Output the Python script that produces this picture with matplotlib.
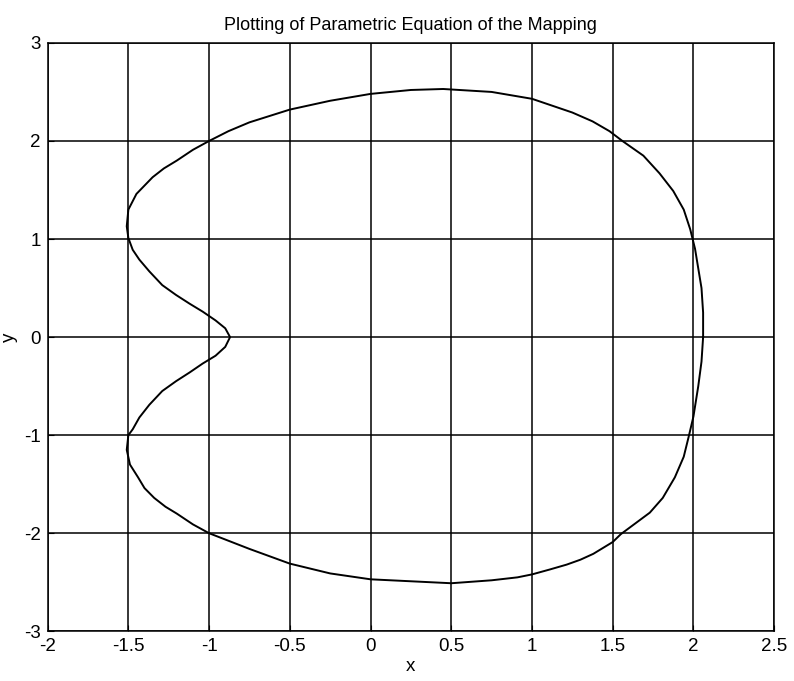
# parametric mapping curve

import numpy as np
import matplotlib.pyplot as plt

plt.rcParams['font.family'] = ['Liberation Sans', 'DejaVu Sans']

# points along the closed curve (counter-clockwise, starting on the right)
curve_x = [2.06, 2.06, 2.05, 2.03, 2.01, 1.98, 1.94, 1.875, 1.79, 1.69, 1.56, 1.48, 1.375,
           1.25, 1.00, 0.75, 0.45, 0.25, 0.00, -0.25, -0.50, -0.75, -0.88, -1.00, -1.10,
           -1.20, -1.28, -1.35, -1.45, -1.50, -1.51, -1.50,
           -1.473, -1.432, -1.37, -1.29, -1.205, -1.12, -1.04, -0.96, -0.90, -0.87,
           -0.90, -0.96, -1.04, -1.12, -1.205, -1.29, -1.37, -1.432, -1.473, -1.50,
           -1.51, -1.49, -1.44, -1.40, -1.34, -1.27, -1.20, -1.10, -1.00, -0.75, -0.50, -0.25, 0.00,
           0.25, 0.50, 0.75, 0.91, 1.00, 1.11, 1.215, 1.30, 1.38, 1.45, 1.50, 1.55, 1.64,
           1.73, 1.81, 1.885, 1.94, 1.97, 2.00, 2.03, 2.05, 2.06]
curve_y = [0.00, 0.25, 0.50, 0.70, 0.90, 1.10, 1.30, 1.49, 1.67, 1.85, 2.00, 2.10, 2.20,
           2.29, 2.43, 2.50, 2.53, 2.52, 2.48, 2.41, 2.32, 2.19, 2.10, 2.00, 1.91,
           1.80, 1.72, 1.63, 1.46, 1.30, 1.13, 1.01,
           0.89, 0.79, 0.67, 0.53, 0.43, 0.34, 0.26, 0.17, 0.09, 0.00,
           -0.10, -0.19, -0.27, -0.36, -0.45, -0.55, -0.69, -0.82, -0.94, -1.00,
           -1.15, -1.30, -1.43, -1.54, -1.64, -1.73, -1.80, -1.91, -2.00, -2.16, -2.31, -2.41, -2.47,
           -2.49, -2.51, -2.48, -2.45, -2.42, -2.37, -2.32, -2.27, -2.21, -2.14, -2.09, -2.01, -1.90,
           -1.79, -1.64, -1.43, -1.22, -1.02, -0.81, -0.50, -0.25, 0.00]

x_ticks = [-2, -1.5, -1, -0.5, 0, 0.5, 1, 1.5, 2, 2.5]
x_labels = ['-2', '-1.5', '-1', '-0.5', '0', '0.5', '1', '1.5', '2', '2.5']
y_ticks = [-3, -2, -1, 0, 1, 2, 3]
y_labels = ['-3', '-2', '-1', '0', '1', '2', '3']


def plot_mapping():
    fig = plt.figure(figsize=(7.94, 6.81), dpi=100)
    ax = fig.add_axes([0.060, 0.073, 0.915, 0.864])

    ax.plot(curve_x, curve_y, color='black', lw=1.4, solid_joinstyle='round')

    ax.set_xlim(-2, 2.5)
    ax.set_ylim(-3, 3)
    ax.set_xticks(x_ticks)
    ax.set_xticklabels(x_labels)
    ax.set_yticks(y_ticks)
    ax.set_yticklabels(y_labels)
    ax.tick_params(direction='in', length=4, labelsize=13.5, pad=5)

    ax.grid(True, color='black', linestyle='-', linewidth=1.1)
    for spine in ax.spines.values():
        spine.set_linewidth(1.1)

    ax.set_title("Plotting of Parametric Equation of the Mapping", fontsize=13, pad=9)
    ax.set_xlabel("x", fontsize=13.5, labelpad=2)
    ax.set_ylabel("y", fontsize=13.5, labelpad=4)

    fig.savefig("out.png", dpi=100)


plot_mapping()
